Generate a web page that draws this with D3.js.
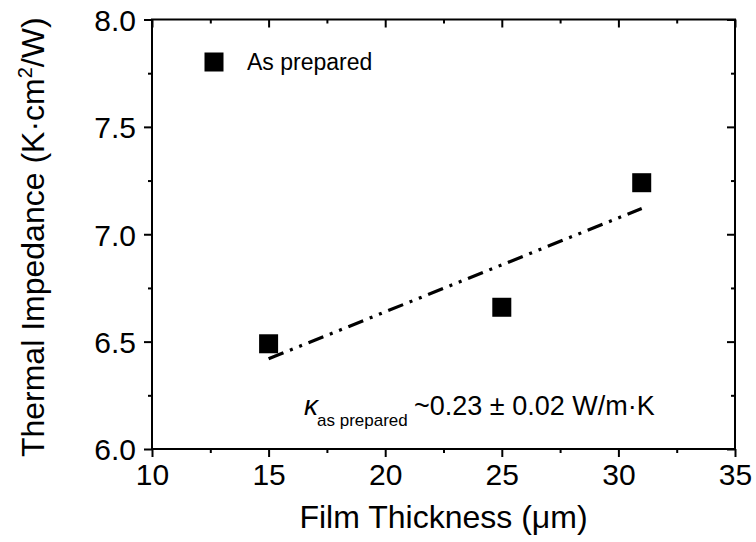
<!DOCTYPE html>
<html>
<head>
<meta charset="utf-8">
<script src="https://cdn.jsdelivr.net/npm/d3@7"></script>
<style>
  html, body { margin: 0; padding: 0; background: #fff; }
  svg { display: block; font-family: "Liberation Sans", Arial, sans-serif; }
</style>
</head>
<body>
<div id="chart"></div>
<script>
// measured points (film thickness in um, thermal impedance in K·cm²/W)
const thickness = [15, 25, 31];
const impedance = [6.49, 6.66, 7.24];

// linear fit line end points
const fitThickness = [15, 31];
const fitImpedance = [6.42, 7.12];

const xTicks = [10, 15, 20, 25, 30, 35];
const xMinorTicks = [12.5, 17.5, 22.5, 27.5, 32.5];
const yTicks = [6.0, 6.5, 7.0, 7.5, 8.0];
const yMinorTicks = [6.25, 6.75, 7.25, 7.75];

const width = 756, height = 542;
const margins = { top: 19.5, right: 21, bottom: 93, left: 152 };

const svg = d3.select("#chart").append("svg")
    .attr("width", width)
    .attr("height", height);

const x = d3.scaleLinear()
    .domain([10, 35])
    .range([margins.left, width - margins.right]);

const y = d3.scaleLinear()
    .domain([6, 8])
    .range([height - margins.bottom, margins.top]);

const fmt = d3.format(".1f");

// style axis lines/ticks
function styleAxis(g) {
    g.select(".domain").remove();
    g.selectAll(".tick line").attr("stroke", "#000").attr("stroke-width", 2);
    g.selectAll(".tick text").attr("fill", "#000")
        .attr("font-family", "'Liberation Sans', Arial, sans-serif");
}

// bottom axis (outward ticks)
svg.append("g")
    .attr("transform", `translate(0,${y(6)})`)
    .call(d3.axisBottom(x).tickValues(xTicks).tickSize(8).tickPadding(6).tickFormat(d3.format("d")))
    .call(styleAxis)
    .call(g => g.selectAll(".tick text").attr("font-size", 30).attr("dy", "0.74em"));

svg.append("g")
    .attr("transform", `translate(0,${y(6)})`)
    .call(d3.axisBottom(x).tickValues(xMinorTicks).tickSize(4).tickFormat(""))
    .call(styleAxis);

// left axis (outward ticks)
svg.append("g")
    .attr("transform", `translate(${x(10)},0)`)
    .call(d3.axisLeft(y).tickValues(yTicks).tickSize(8).tickPadding(8).tickFormat(fmt))
    .call(styleAxis)
    .call(g => g.selectAll(".tick text").attr("font-size", 30).attr("dy", "0.36em"));

svg.append("g")
    .attr("transform", `translate(${x(10)},0)`)
    .call(d3.axisLeft(y).tickValues(yMinorTicks).tickSize(4).tickFormat(""))
    .call(styleAxis);

// top axis (inward ticks, no labels)
svg.append("g")
    .attr("transform", `translate(0,${y(8)})`)
    .call(d3.axisTop(x).tickValues(xTicks).tickSize(-8).tickFormat(""))
    .call(styleAxis);
svg.append("g")
    .attr("transform", `translate(0,${y(8)})`)
    .call(d3.axisTop(x).tickValues(xMinorTicks).tickSize(-4).tickFormat(""))
    .call(styleAxis);

// right axis (inward ticks, no labels)
svg.append("g")
    .attr("transform", `translate(${x(35)},0)`)
    .call(d3.axisRight(y).tickValues(yTicks).tickSize(-8).tickFormat(""))
    .call(styleAxis);
svg.append("g")
    .attr("transform", `translate(${x(35)},0)`)
    .call(d3.axisRight(y).tickValues(yMinorTicks).tickSize(-4).tickFormat(""))
    .call(styleAxis);

// frame
svg.append("rect")
    .attr("x", x(10))
    .attr("y", y(8))
    .attr("width", x(35) - x(10))
    .attr("height", y(6) - y(8))
    .attr("fill", "none")
    .attr("stroke", "#000")
    .attr("stroke-width", 2);

// fit line, dash-dot-dot
const fitData = fitThickness.map((t, i) => [t, fitImpedance[i]]);
svg.append("path")
    .datum(fitData)
    .attr("d", d3.line().x(d => x(d[0])).y(d => y(d[1])))
    .attr("fill", "none")
    .attr("stroke", "#000")
    .attr("stroke-width", 3.2)
    .attr("stroke-dasharray", "16 7 3 7 3 7");

// data squares
const sq = 19;
svg.append("g")
    .selectAll("rect")
    .data(thickness.map((t, i) => [t, impedance[i]]))
    .join("rect")
    .attr("x", d => x(d[0]) - sq / 2)
    .attr("y", d => y(d[1]) - sq / 2)
    .attr("width", sq)
    .attr("height", sq)
    .attr("fill", "#000");

// legend
svg.append("rect")
    .attr("x", 204.5)
    .attr("y", 52.5)
    .attr("width", sq)
    .attr("height", sq)
    .attr("fill", "#000");
svg.append("text")
    .attr("x", 247)
    .attr("y", 70)
    .attr("font-size", 23)
    .attr("fill", "#000")
    .text("As prepared");

// conductivity annotation
const ann = svg.append("text")
    .attr("x", 304)
    .attr("y", 415)
    .attr("fill", "#000");
ann.append("tspan")
    .attr("font-size", 28)
    .attr("font-style", "italic")
    .text("κ");
ann.append("tspan")
    .attr("x", 317)
    .attr("y", 426)
    .attr("font-size", 17)
    .text("as prepared");
ann.append("tspan")
    .attr("x", 414)
    .attr("y", 415)
    .attr("font-size", 27)
    .text("~0.23 ± 0.02 W/m·K");

// axis titles
svg.append("text")
    .attr("x", (x(10) + x(35)) / 2)
    .attr("y", 528)
    .attr("text-anchor", "middle")
    .attr("font-size", 32)
    .attr("fill", "#000")
    .text("Film Thickness (μm)");

const yTitle = svg.append("text")
    .attr("transform", `translate(44,${(y(6) + y(8)) / 2 + 3}) rotate(-90)`)
    .attr("text-anchor", "middle")
    .attr("font-size", 32)
    .attr("fill", "#000");
yTitle.append("tspan").text("Thermal Impedance (K·cm");
yTitle.append("tspan").attr("font-size", 20).attr("dy", -12).text("2");
yTitle.append("tspan").attr("dy", 12).text("/W)");
</script>
</body>
</html>
